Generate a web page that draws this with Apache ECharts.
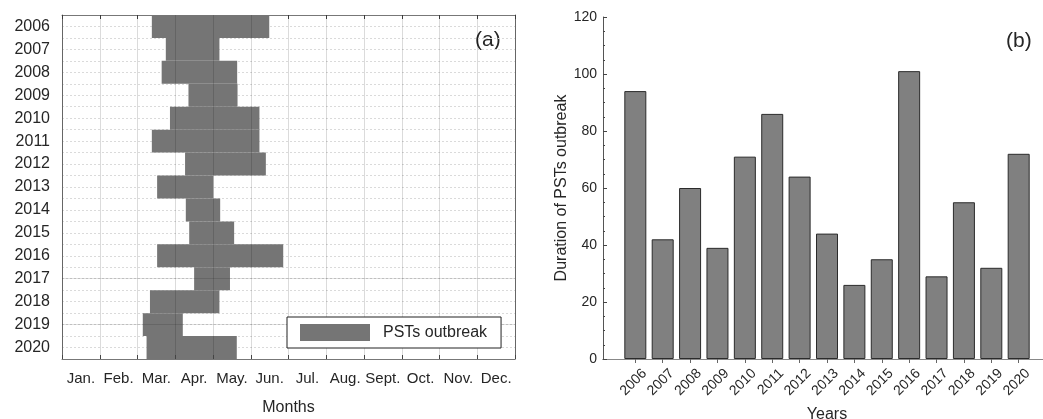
<!DOCTYPE html>
<html>
<head>
<meta charset="utf-8">
<script src="https://cdn.jsdelivr.net/npm/echarts@6/dist/echarts.min.js"></script>
<style>html,body{margin:0;padding:0;background:#fff}#c{width:1043px;height:419px}</style>
</head>
<body>
<div id="c"></div>
<script>
// ---- data ----
const years = ['2006','2007','2008','2009','2010','2011','2012','2013','2014','2015','2016','2017','2018','2019','2020'];
const monthLabels = ['Jan.','Feb.','Mar.','Apr.','May.','Jun.','Jul.','Aug.','Sept.','Oct.','Nov.','Dec.'];
// outbreak start / end, in months from 1 January
const startMonth = [2.38, 2.75, 2.64, 3.35, 2.86, 2.38, 3.26, 2.52, 3.28, 3.37, 2.52, 3.50, 2.33, 2.14, 2.24];
const endMonth   = [5.49, 4.17, 4.64, 4.65, 5.23, 5.23, 5.40, 4.01, 4.19, 4.56, 5.86, 4.45, 4.17, 3.20, 4.63];
// duration in days (panel b)
const duration = [94, 42, 60, 39, 71, 86, 64, 44, 26, 35, 101, 29, 55, 32, 72];
const yTicks = [0, 20, 40, 60, 80, 100, 120];

const FONT = '"Liberation Sans", Arial, Helvetica, sans-serif';
const TXT = '#262626';
const yearNums = years.map(Number);

const chart = echarts.init(document.getElementById('c'), null, {renderer: 'canvas'});
const option = {
  backgroundColor: '#fff',
  animation: false,
  textStyle: {fontFamily: FONT, color: TXT},
  grid: [
    {left: 62, top: 15, width: 453, height: 344, containLabel: false, outerBoundsMode: 'none'},
    {left: 603, top: 17, right: -8, height: 342, containLabel: false, outerBoundsMode: 'none'}
  ],
  legend: {
    data: ['PSTs outbreak'],
    left: 287, top: 317,
    itemWidth: 70, itemHeight: 17,
    padding: [7, 14, 7, 13],
    borderColor: '#222', borderWidth: 1,
    backgroundColor: '#fff',
    z: 20,
    icon: 'rect',
    textStyle: {fontSize: 16, color: TXT, fontFamily: FONT, padding: [0, 0, 0, 8]}
  },
  xAxis: [
    { // months, bottom labels and month split lines
      gridIndex: 0, type: 'category', data: monthLabels, position: 'bottom',
      boundaryGap: true, z: 5,
      axisLine: {show: true, lineStyle: {color: '#777', width: 1}},
      axisTick: {show: true, inside: true, length: 4, lineStyle: {color: '#444'}},
      axisLabel: {fontSize: 15, color: TXT, margin: 12, fontFamily: FONT, interval: 0},
      splitLine: {show: true, lineStyle: {color: 'rgba(0,0,0,0.14)', width: 1}},
      name: 'Months', nameLocation: 'middle', nameGap: 41,
      nameTextStyle: {fontSize: 16, color: TXT, fontFamily: FONT}
    },
    { // continuous months scale for bars, top frame
      gridIndex: 0, type: 'value', min: 0, max: 12, interval: 1, position: 'top',
      axisLine: {show: true, lineStyle: {color: '#777', width: 1}},
      axisTick: {show: true, inside: true, length: 4, lineStyle: {color: '#444'}},
      axisLabel: {show: false},
      splitLine: {show: false}
    },
    { // panel b bottom
      gridIndex: 1, type: 'value', min: 2004.82, max: 2021.18, position: 'bottom',
      axisLine: {show: true, onZero: false, lineStyle: {color: '#555', width: 1}},
      axisTick: {show: true, inside: true, length: 4, customValues: yearNums, lineStyle: {color: '#444'}},
      axisLabel: {show: true, rotate: 45, fontSize: 14, color: TXT, margin: 3, fontFamily: FONT,
        verticalAlign: 'top', padding: [6, 0, 0, 0],
        customValues: yearNums, formatter: v => String(Math.round(v))},
      splitLine: {show: false},
      name: 'Years', nameLocation: 'middle', nameGap: 48,
      nameTextStyle: {fontSize: 16, color: TXT, fontFamily: FONT}
    },
    { // panel b top frame
      gridIndex: 1, type: 'value', min: 2004.82, max: 2021.18, position: 'top',
      axisLine: {show: true, lineStyle: {color: '#888', width: 1}},
      axisTick: {show: true, inside: true, length: 4, customValues: yearNums, lineStyle: {color: '#666'}},
      axisLabel: {show: false},
      splitLine: {show: false}
    }
  ],
  yAxis: [
    { // years panel a
      gridIndex: 0, type: 'category', data: years, inverse: true,
      axisLine: {show: true, lineStyle: {color: '#777', width: 1}},
      axisTick: {show: false},
      axisLabel: {fontSize: 16, color: TXT, margin: 12, fontFamily: FONT},
      splitLine: {show: false}
    },
    { // dotted grid + right frame panel a
      gridIndex: 0, type: 'value', min: 0, max: 30, interval: 1, position: 'right',
      axisLine: {show: true, lineStyle: {color: '#777', width: 1}},
      axisTick: {show: false},
      axisLabel: {show: false},
      splitLine: {show: true, lineStyle: {color: '#dadada', width: 1, type: [2, 2]}}
    },
    { // panel b values
      gridIndex: 1, type: 'value', min: 0, max: 120, interval: 20,
      axisLine: {show: true, lineStyle: {color: '#555', width: 1}},
      axisTick: {show: true, inside: true, length: 4, lineStyle: {color: '#444'}},
      minorTick: {show: true, splitNumber: 4, length: 2, lineStyle: {color: '#444'}},
      axisLabel: {fontSize: 14, color: TXT, margin: 6, fontFamily: FONT},
      splitLine: {show: false},
      name: 'Duration of PSTs outbreak', nameLocation: 'middle', nameGap: 30,
      nameTextStyle: {fontSize: 16, color: TXT, fontFamily: FONT}
    }
  ],
  series: [
    {
      name: 'offset', type: 'bar', stack: 'pst', xAxisIndex: 1, yAxisIndex: 0,
      data: startMonth, barWidth: '100%', barCategoryGap: 0,
      itemStyle: {color: 'rgba(0,0,0,0)'}, silent: true, z: 2,
      markLine: {
        silent: true, symbol: 'none', label: {show: false},
        lineStyle: {color: 'rgba(0,0,0,0.12)', type: 'solid', width: 1},
        data: [{yAxis: '2017'}, {yAxis: '2019'}]
      }
    },
    {
      name: 'PSTs outbreak', type: 'bar', stack: 'pst', xAxisIndex: 1, yAxisIndex: 0,
      data: endMonth.map((e, i) => +(e - startMonth[i]).toFixed(3)),
      barWidth: '100%', barCategoryGap: 0, z: 2,
      itemStyle: {color: '#757575'}
    },
    {
      name: 'Duration', type: 'bar', xAxisIndex: 2, yAxisIndex: 2,
      data: duration.map((d, i) => [yearNums[i], d]),
      barWidth: 22,
      itemStyle: {color: '#808080', borderColor: '#2b2b2b', borderWidth: 1}
    }
  ],
  graphic: [
    {type: 'text', left: 475, top: 30, style: {text: '(a)', fontSize: 21, fill: TXT, fontFamily: FONT}},
    {type: 'text', left: 1006, top: 31, style: {text: '(b)', fontSize: 21, fill: TXT, fontFamily: FONT}}
  ]
};
chart.setOption(option);
</script>
</body>
</html>
